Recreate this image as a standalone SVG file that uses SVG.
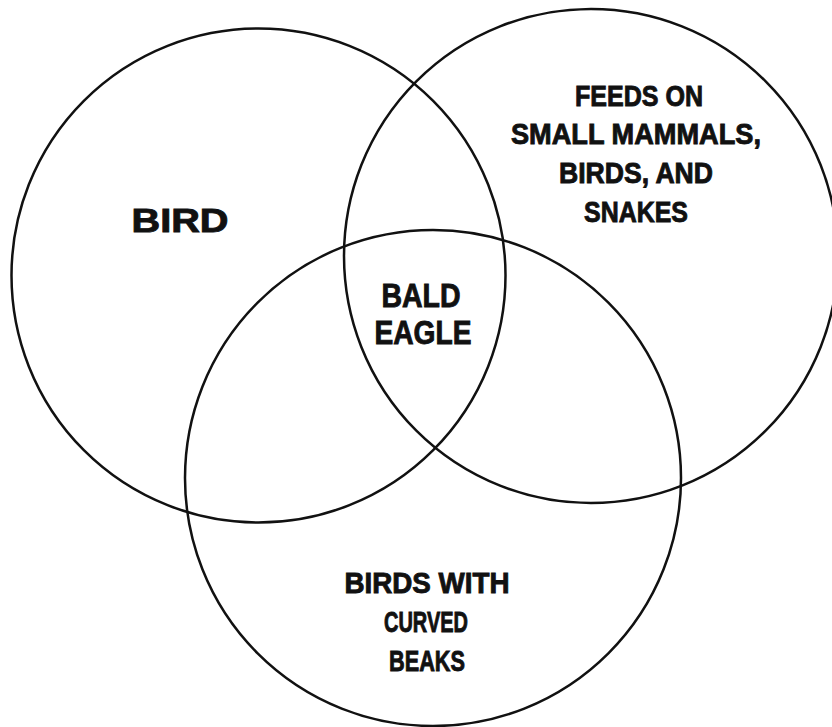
<svg xmlns="http://www.w3.org/2000/svg" width="832" height="727" viewBox="0 0 832 727">
<style>
.c{fill:none;stroke:#111;stroke-width:2.5}
.t{font-family:"Liberation Sans","DejaVu Sans",Arial,sans-serif;font-weight:bold;fill:#111;stroke:#111;stroke-width:0.9;text-anchor:middle}
.s{font-size:29px}
.l{font-size:33px}
</style>
<rect width="832" height="727" fill="#fff"/>
<g id="circle-bird">
<circle class="c" cx="258.5" cy="275.5" r="247"/>
<text class="t l" x="180" y="232" textLength="97" lengthAdjust="spacingAndGlyphs">BIRD</text>
</g>
<g id="circle-feeds">
<circle class="c" cx="591" cy="256" r="247"/>
<text class="t s" x="639" y="106" textLength="128" lengthAdjust="spacingAndGlyphs">FEEDS ON</text>
<text class="t s" x="636" y="144" textLength="250" lengthAdjust="spacingAndGlyphs">SMALL MAMMALS,</text>
<text class="t s" x="636" y="183" textLength="154" lengthAdjust="spacingAndGlyphs">BIRDS, AND</text>
<text class="t s" x="636" y="222" textLength="104" lengthAdjust="spacingAndGlyphs">SNAKES</text>
</g>
<g id="circle-beaks">
<circle class="c" cx="433" cy="478" r="248"/>
<text class="t s" x="427" y="593" textLength="165" lengthAdjust="spacingAndGlyphs">BIRDS WITH</text>
<text class="t s" x="426" y="632" textLength="84" lengthAdjust="spacingAndGlyphs">CURVED</text>
<text class="t s" x="427" y="671" textLength="76" lengthAdjust="spacingAndGlyphs">BEAKS</text>
</g>
<g id="center">
<text class="t l" x="421" y="307" textLength="79" lengthAdjust="spacingAndGlyphs">BALD</text>
<text class="t l" x="423" y="344" textLength="97" lengthAdjust="spacingAndGlyphs">EAGLE</text>
</g>
<g id="connectors"></g>
</svg>
